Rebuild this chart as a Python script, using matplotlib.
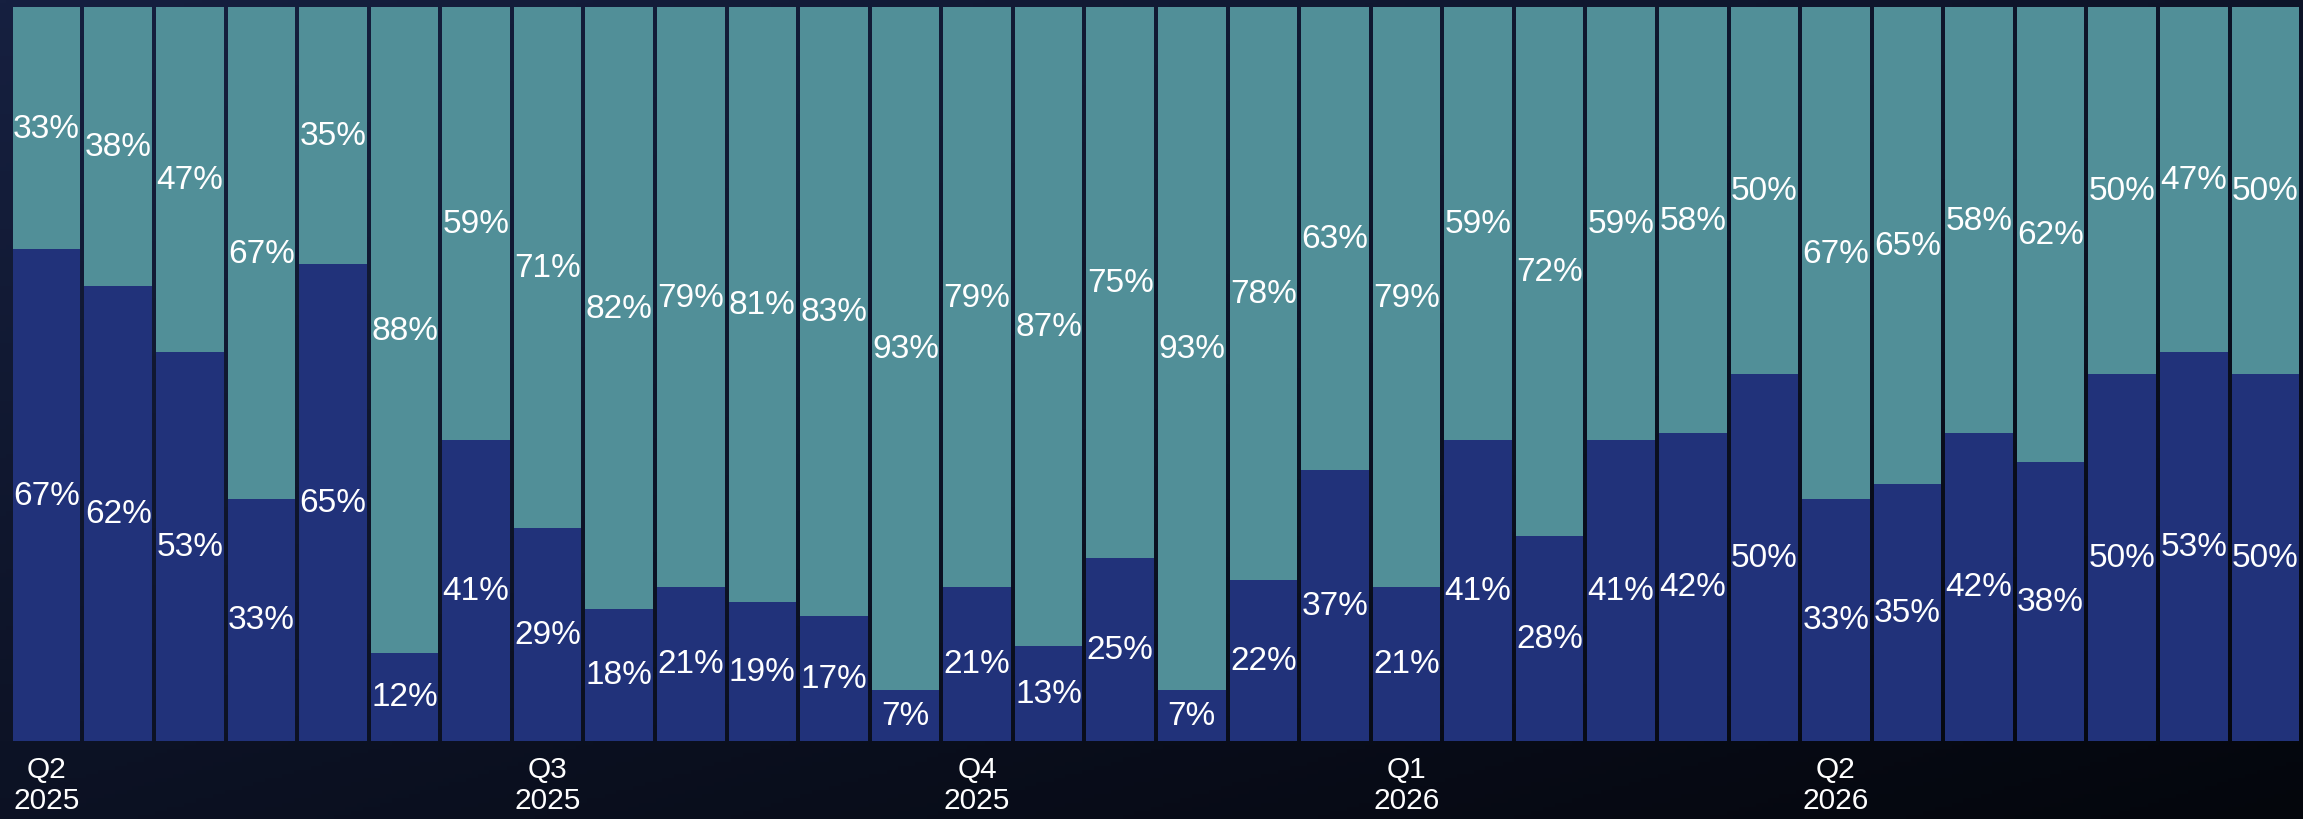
import numpy as np
import matplotlib
matplotlib.use("Agg")
import matplotlib.pyplot as plt

plt.rcParams['font.family'] = ['Liberation Sans', 'DejaVu Sans']

# share per period (bottom = navy, top = teal)
bottom_pct = [67, 62, 53, 33, 65, 12, 41, 29, 18, 21, 19, 17, 7, 21, 13, 25,
              7, 22, 37, 21, 41, 28, 41, 42, 50, 33, 35, 42, 38, 50, 53, 50]
top_pct = [33, 38, 47, 67, 35, 88, 59, 71, 82, 79, 81, 83, 93, 79, 87, 75,
           93, 78, 63, 79, 59, 72, 59, 58, 50, 67, 65, 58, 62, 50, 47, 50]
tick_pos = [0, 7, 13, 19, 25]
tick_labels = ["Q2\n2025", "Q3\n2025", "Q4\n2025", "Q1\n2026", "Q2\n2026"]

navy = "#21327a"
teal = "#518f98"

fig = plt.figure(figsize=(23.03, 8.2), dpi=100)

# background gradient
bg = fig.add_axes([0, 0, 1, 1])
yy, xx = np.mgrid[0:1:200j, 0:1:400j]
t = np.clip(0.55 * yy + 0.45 * xx, 0, 1)
c0 = np.array([22, 32, 64]) / 255.0
c1 = np.array([4, 6, 12]) / 255.0
img = c0[None, None, :] * (1 - t[..., None]) + c1[None, None, :] * t[..., None]
bg.imshow(img, aspect='auto', extent=[0, 1, 0, 1], origin='upper')
bg.axis('off')

ax = fig.add_axes([0.0056, 0.0951, 0.9927, 0.8949])
ax.patch.set_alpha(0)
x = np.arange(len(bottom_pct))
w = 0.944
ax.bar(x, bottom_pct, width=w, color=navy)
ax.bar(x, top_pct, width=w, bottom=bottom_pct, color=teal)

for i in range(len(x)):
    ax.text(x[i], bottom_pct[i] / 2, f"{bottom_pct[i]}%", ha='center', va='center',
            color='white', fontsize=24)
    ax.text(x[i], bottom_pct[i] + top_pct[i] / 2, f"{top_pct[i]}%", ha='center',
            va='center', color='white', fontsize=24)

ax.set_xlim(-w / 2, len(x) - 1 + w / 2)
ax.set_ylim(0, 100)
ax.set_yticks([])
ax.set_xticks(tick_pos)
ax.set_xticklabels(tick_labels, color='white', fontsize=21.5, linespacing=1.15)
ax.tick_params(axis='x', length=0, pad=10)
for s in ax.spines.values():
    s.set_visible(False)

fig.savefig("out.png", dpi=100)
